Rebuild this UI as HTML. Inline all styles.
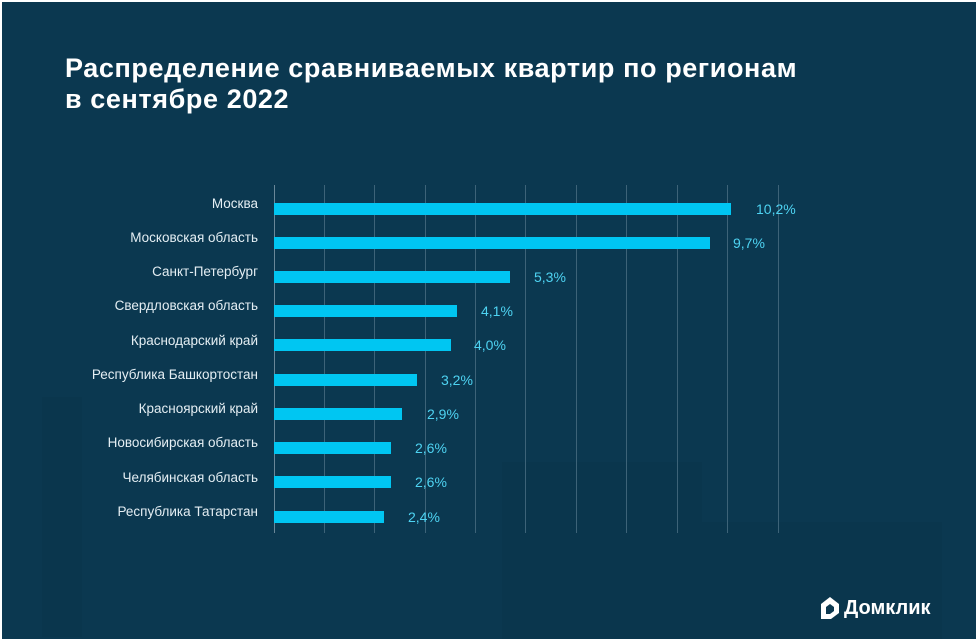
<!DOCTYPE html>
<html><head><meta charset="utf-8"><style>
body{margin:0;width:978px;height:641px;background:#fff;overflow:hidden}
#c{position:absolute;left:2px;top:2px;width:974px;height:637px;background:#0b3850;overflow:hidden;font-family:"Liberation Sans",sans-serif}
.t{position:absolute;left:63px;color:#fff;font-weight:bold;font-size:27px;letter-spacing:0.6px}
.g{position:absolute;top:183px;height:348px;width:1px;background:#3d6378}
.l{position:absolute;right:718px;color:#e4eef3;font-size:13.5px;white-space:nowrap}
.b{position:absolute;left:272px;height:12px;background:#00c6f2}
.v{position:absolute;color:#4ed3f2;font-size:14px}
.sh{position:absolute;background:#0a364d}
</style></head><body><div id="c">
<div class="sh" style="left:40px;top:395px;width:40px;height:240px"></div>
<div class="sh" style="left:500px;top:460px;width:200px;height:180px"></div>
<div class="sh" style="left:680px;top:520px;width:260px;height:120px"></div>
<div class="t" style="top:51px">Распределение сравниваемых квартир по регионам</div>
<div class="t" style="top:82px">в сентябре 2022</div>
<div class="g" style="left:272px;background:#6a8798"></div>
<div class="g" style="left:322px"></div><div class="g" style="left:372px"></div>
<div class="g" style="left:423px"></div><div class="g" style="left:473px"></div>
<div class="g" style="left:523px"></div><div class="g" style="left:574px"></div>
<div class="g" style="left:624px"></div><div class="g" style="left:675px"></div>
<div class="g" style="left:725px"></div><div class="g" style="left:776px"></div>

<div class="l" style="top:194px">Москва</div><div class="b" style="top:201px;width:457px"></div><div class="v" style="left:754px;top:199px">10,2%</div>
<div class="l" style="top:228px">Московская область</div><div class="b" style="top:235px;width:436px"></div><div class="v" style="left:731px;top:233px">9,7%</div>
<div class="l" style="top:262px">Санкт-Петербург</div><div class="b" style="top:269px;width:236px"></div><div class="v" style="left:532px;top:267px">5,3%</div>
<div class="l" style="top:296px">Свердловская область</div><div class="b" style="top:303px;width:183px"></div><div class="v" style="left:479px;top:301px">4,1%</div>
<div class="l" style="top:331px">Краснодарский край</div><div class="b" style="top:337px;width:177px"></div><div class="v" style="left:472px;top:335px">4,0%</div>
<div class="l" style="top:365px">Республика Башкортостан</div><div class="b" style="top:372px;width:143px"></div><div class="v" style="left:439px;top:370px">3,2%</div>
<div class="l" style="top:399px">Красноярский край</div><div class="b" style="top:406px;width:128px"></div><div class="v" style="left:425px;top:404px">2,9%</div>
<div class="l" style="top:433px">Новосибирская область</div><div class="b" style="top:440px;width:117px"></div><div class="v" style="left:413px;top:438px">2,6%</div>
<div class="l" style="top:468px">Челябинская область</div><div class="b" style="top:474px;width:117px"></div><div class="v" style="left:413px;top:472px">2,6%</div>
<div class="l" style="top:502px">Республика Татарстан</div><div class="b" style="top:509px;width:110px"></div><div class="v" style="left:406px;top:507px">2,4%</div>

<svg style="position:absolute;left:817px;top:593px" width="22" height="26" viewBox="0 0 22 26"><path d="M2 9 L11 2 L20 9 L20 18 L12 24 L2 24 Z" fill="#fff"/><path d="M7 12 L11 9 L15 12 L15 16 L11 19 L7 19 Z" fill="#0b3850"/></svg>
<div style="position:absolute;left:842px;top:595px;color:#fff;font-weight:bold;font-size:20px">Домклик</div>
</div></body></html>
